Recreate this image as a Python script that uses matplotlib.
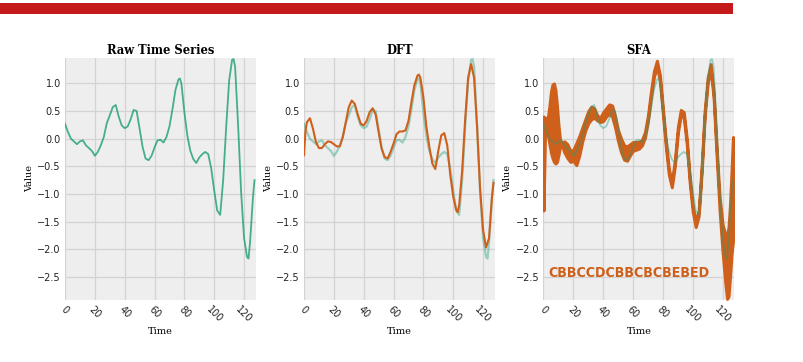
import matplotlib
matplotlib.use('Agg')
import matplotlib.pyplot as plt
from matplotlib.patches import Rectangle

# ---------------- data ----------------
raw_t = [0, 2, 4, 6, 8, 10, 12, 14, 16, 18, 20, 22, 24, 26, 28, 30, 32, 34, 36, 38,
         40, 42, 44, 46, 48, 50, 52, 54, 56, 58, 60, 62, 64, 66, 68, 70, 72, 74, 76, 77,
         78, 80, 82, 84, 86, 88, 90, 92, 94, 96, 98, 100, 102, 104, 106, 108, 110, 112,
         113, 114, 116, 118, 120, 122, 123, 124, 126, 127]
raw_v = [0.27, 0.12, 0.00, -0.05, -0.10, -0.05, -0.03, -0.12, -0.17, -0.22, -0.31, -0.24,
         -0.12, 0.03, 0.28, 0.42, 0.57, 0.61, 0.40, 0.24, 0.19, 0.22, 0.35, 0.52, 0.50,
         0.18, -0.15, -0.36, -0.39, -0.31, -0.16, -0.03, -0.02, -0.07, 0.03, 0.22, 0.53,
         0.88, 1.07, 1.09, 1.00, 0.48, 0.05, -0.22, -0.37, -0.44, -0.34, -0.28, -0.24,
         -0.28, -0.54, -0.94, -1.30, -1.38, -0.75, 0.20, 1.05, 1.43, 1.44, 1.30, 0.25,
         -0.95, -1.80, -2.14, -2.17, -1.88, -1.05, -0.75]

dft_t = [0, 1, 2, 4, 6, 8, 10, 12, 14, 16, 18, 20, 22, 24, 26, 28, 30, 32, 34, 36, 38,
         40, 42, 44, 46, 48, 50, 52, 54, 56, 58, 60, 62, 64, 66, 68, 70, 72, 74, 76, 77,
         78, 80, 82, 84, 86, 88, 90, 92, 94, 96, 98, 100, 102, 103, 104, 106, 108, 110,
         112, 114, 116, 118, 120, 122, 124, 126, 127]
dft_v = [-0.30, 0.15, 0.30, 0.37, 0.18, -0.06, -0.17, -0.17, -0.10, -0.05, -0.06, -0.10,
         -0.14, -0.14, 0.03, 0.30, 0.57, 0.69, 0.63, 0.44, 0.27, 0.24, 0.32, 0.48, 0.55,
         0.44, 0.12, -0.18, -0.33, -0.36, -0.24, -0.09, 0.08, 0.13, 0.13, 0.15, 0.32,
         0.66, 0.97, 1.14, 1.16, 1.10, 0.75, 0.22, -0.15, -0.45, -0.55, -0.22, 0.06, 0.10,
         -0.12, -0.65, -1.05, -1.29, -1.33, -1.20, -0.58, 0.35, 1.10, 1.35, 1.10, 0.20,
         -0.90, -1.65, -1.97, -1.80, -1.05, -0.80]

sfa_t = [0, 1, 2, 3, 4, 5, 6, 7, 8, 9, 10, 11, 12, 14, 16, 18, 20, 22, 24, 26, 28, 30,
         32, 34, 36, 38, 40, 42, 44, 46, 48, 50, 52, 54, 56, 58, 60, 62, 64, 66, 68, 70,
         72, 74, 76, 78, 80, 82, 84, 86, 88, 90, 92, 94, 96, 98, 100, 102, 104, 106, 108,
         110, 112, 114, 116, 118, 120, 122, 123, 124, 125, 126, 127]
sfa_upper = [0.40, 0.38, 0.35, 0.40, 0.60, 0.85, 0.98, 1.00, 0.88, 0.60, 0.25, 0.00,
             -0.08, -0.05, -0.10, -0.22, -0.20, -0.08, 0.05, 0.20, 0.35, 0.50, 0.58,
             0.55, 0.42, 0.38, 0.48, 0.55, 0.62, 0.60, 0.40, 0.15, 0.00, -0.12, -0.14,
             -0.10, -0.06, -0.06, -0.06, -0.02, 0.12, 0.42, 0.85, 1.22, 1.41, 1.15, 0.55,
             -0.05, -0.55, -0.78, -0.40, 0.20, 0.52, 0.48, 0.00, -0.70, -1.22, -1.50,
             -1.30, -0.50, 0.50, 1.10, 1.35, 0.85, -0.15, -1.05, -1.55, -1.75, -1.75,
             -1.60, -1.20, -0.60, 0.03]
sfa_lower = [-1.30, 0.10, 0.15, 0.05, -0.10, -0.25, -0.35, -0.42, -0.45, -0.42, -0.30,
             -0.15, -0.10, -0.25, -0.35, -0.42, -0.40, -0.48, -0.30, -0.05, 0.15, 0.28,
             0.35, 0.38, 0.33, 0.30, 0.32, 0.40, 0.45, 0.40, 0.20, -0.05, -0.25, -0.38,
             -0.40, -0.30, -0.22, -0.20, -0.18, -0.12, 0.02, 0.32, 0.75, 1.12, 1.30, 1.05,
             0.45, -0.15, -0.65, -0.88, -0.50, 0.10, 0.42, 0.38, -0.10, -0.80, -1.32,
             -1.60, -1.40, -0.60, 0.40, 1.00, 1.25, 0.75, -0.30, -1.30, -2.05, -2.65,
             -2.90, -2.85, -2.50, -2.10, -1.85]
sfa_word = "CBBCCDCBBCBCBEBED"

titles = ["Raw Time Series", "DFT", "SFA"]
x_ticks = [0, 20, 40, 60, 80, 100, 120]
y_ticks = [1.0, 0.5, 0.0, -0.5, -1.0, -1.5, -2.0, -2.5]

# ---------------- style ----------------
GREEN = '#1b9e77'
ORANGE = '#cf601c'
BG = '#eeeeee'
GRID = '#d3d3d3'

fig = plt.figure(figsize=(8.04, 3.62), dpi=100)
fig.patch.set_facecolor('white')
fig.patches.append(Rectangle((0, 1 - 14 / 362), 733 / 804, 11 / 362,
                             transform=fig.transFigure, facecolor='#c41a1a',
                             edgecolor='none', zorder=0))

W, H = 804, 362
lefts = [65, 304, 543.5]
axes = []
for i, lft in enumerate(lefts):
    ax = fig.add_axes([lft / W, 1 - 300 / H, 191 / W, 242 / H])
    ax.set_facecolor(BG)
    for s in ax.spines.values():
        s.set_visible(False)
    ax.grid(True, color=GRID, linewidth=0.9)
    ax.set_axisbelow(True)
    ax.set_xlim(0, 128)
    ax.set_ylim(-2.92, 1.46)
    ax.set_xticks(x_ticks)
    ax.set_yticks(y_ticks)
    ax.set_xticklabels([str(v) for v in x_ticks], rotation=-45, ha='center',
                       fontsize=7)
    ax.set_yticklabels([f"{v:.1f}".replace('-', '\u2212') for v in y_ticks],
                       fontsize=7)
    ax.tick_params(length=0, pad=3, colors='#222222')
    ax.set_title(titles[i], fontsize=8.3, fontweight='bold', family='DejaVu Serif',
                 pad=3)
    ax.set_xlabel("Time", fontsize=7, family='DejaVu Serif', labelpad=2)
    ax.set_ylabel("Value", fontsize=7, family='DejaVu Serif', labelpad=2.5)
    axes.append(ax)

# Raw
axes[0].plot(raw_t, raw_v, color=GREEN, alpha=0.8, linewidth=1.3)

# DFT
axes[1].plot(raw_t, raw_v, color=GREEN, alpha=0.4, linewidth=1.6)
axes[1].plot(dft_t, dft_v, color=ORANGE, linewidth=1.5)

# SFA
axes[2].fill_between(sfa_t, sfa_lower, sfa_upper, facecolor=ORANGE,
                     edgecolor=ORANGE, linewidth=2.2)
axes[2].plot(raw_t, raw_v, color=GREEN, alpha=0.4, linewidth=1.3)
axes[2].text(3.3, -2.5, sfa_word, color=ORANGE, fontsize=10.2,
             fontweight='bold', fontstretch='condensed', ha='left', va='baseline')

fig.savefig("out.png", dpi=100)
